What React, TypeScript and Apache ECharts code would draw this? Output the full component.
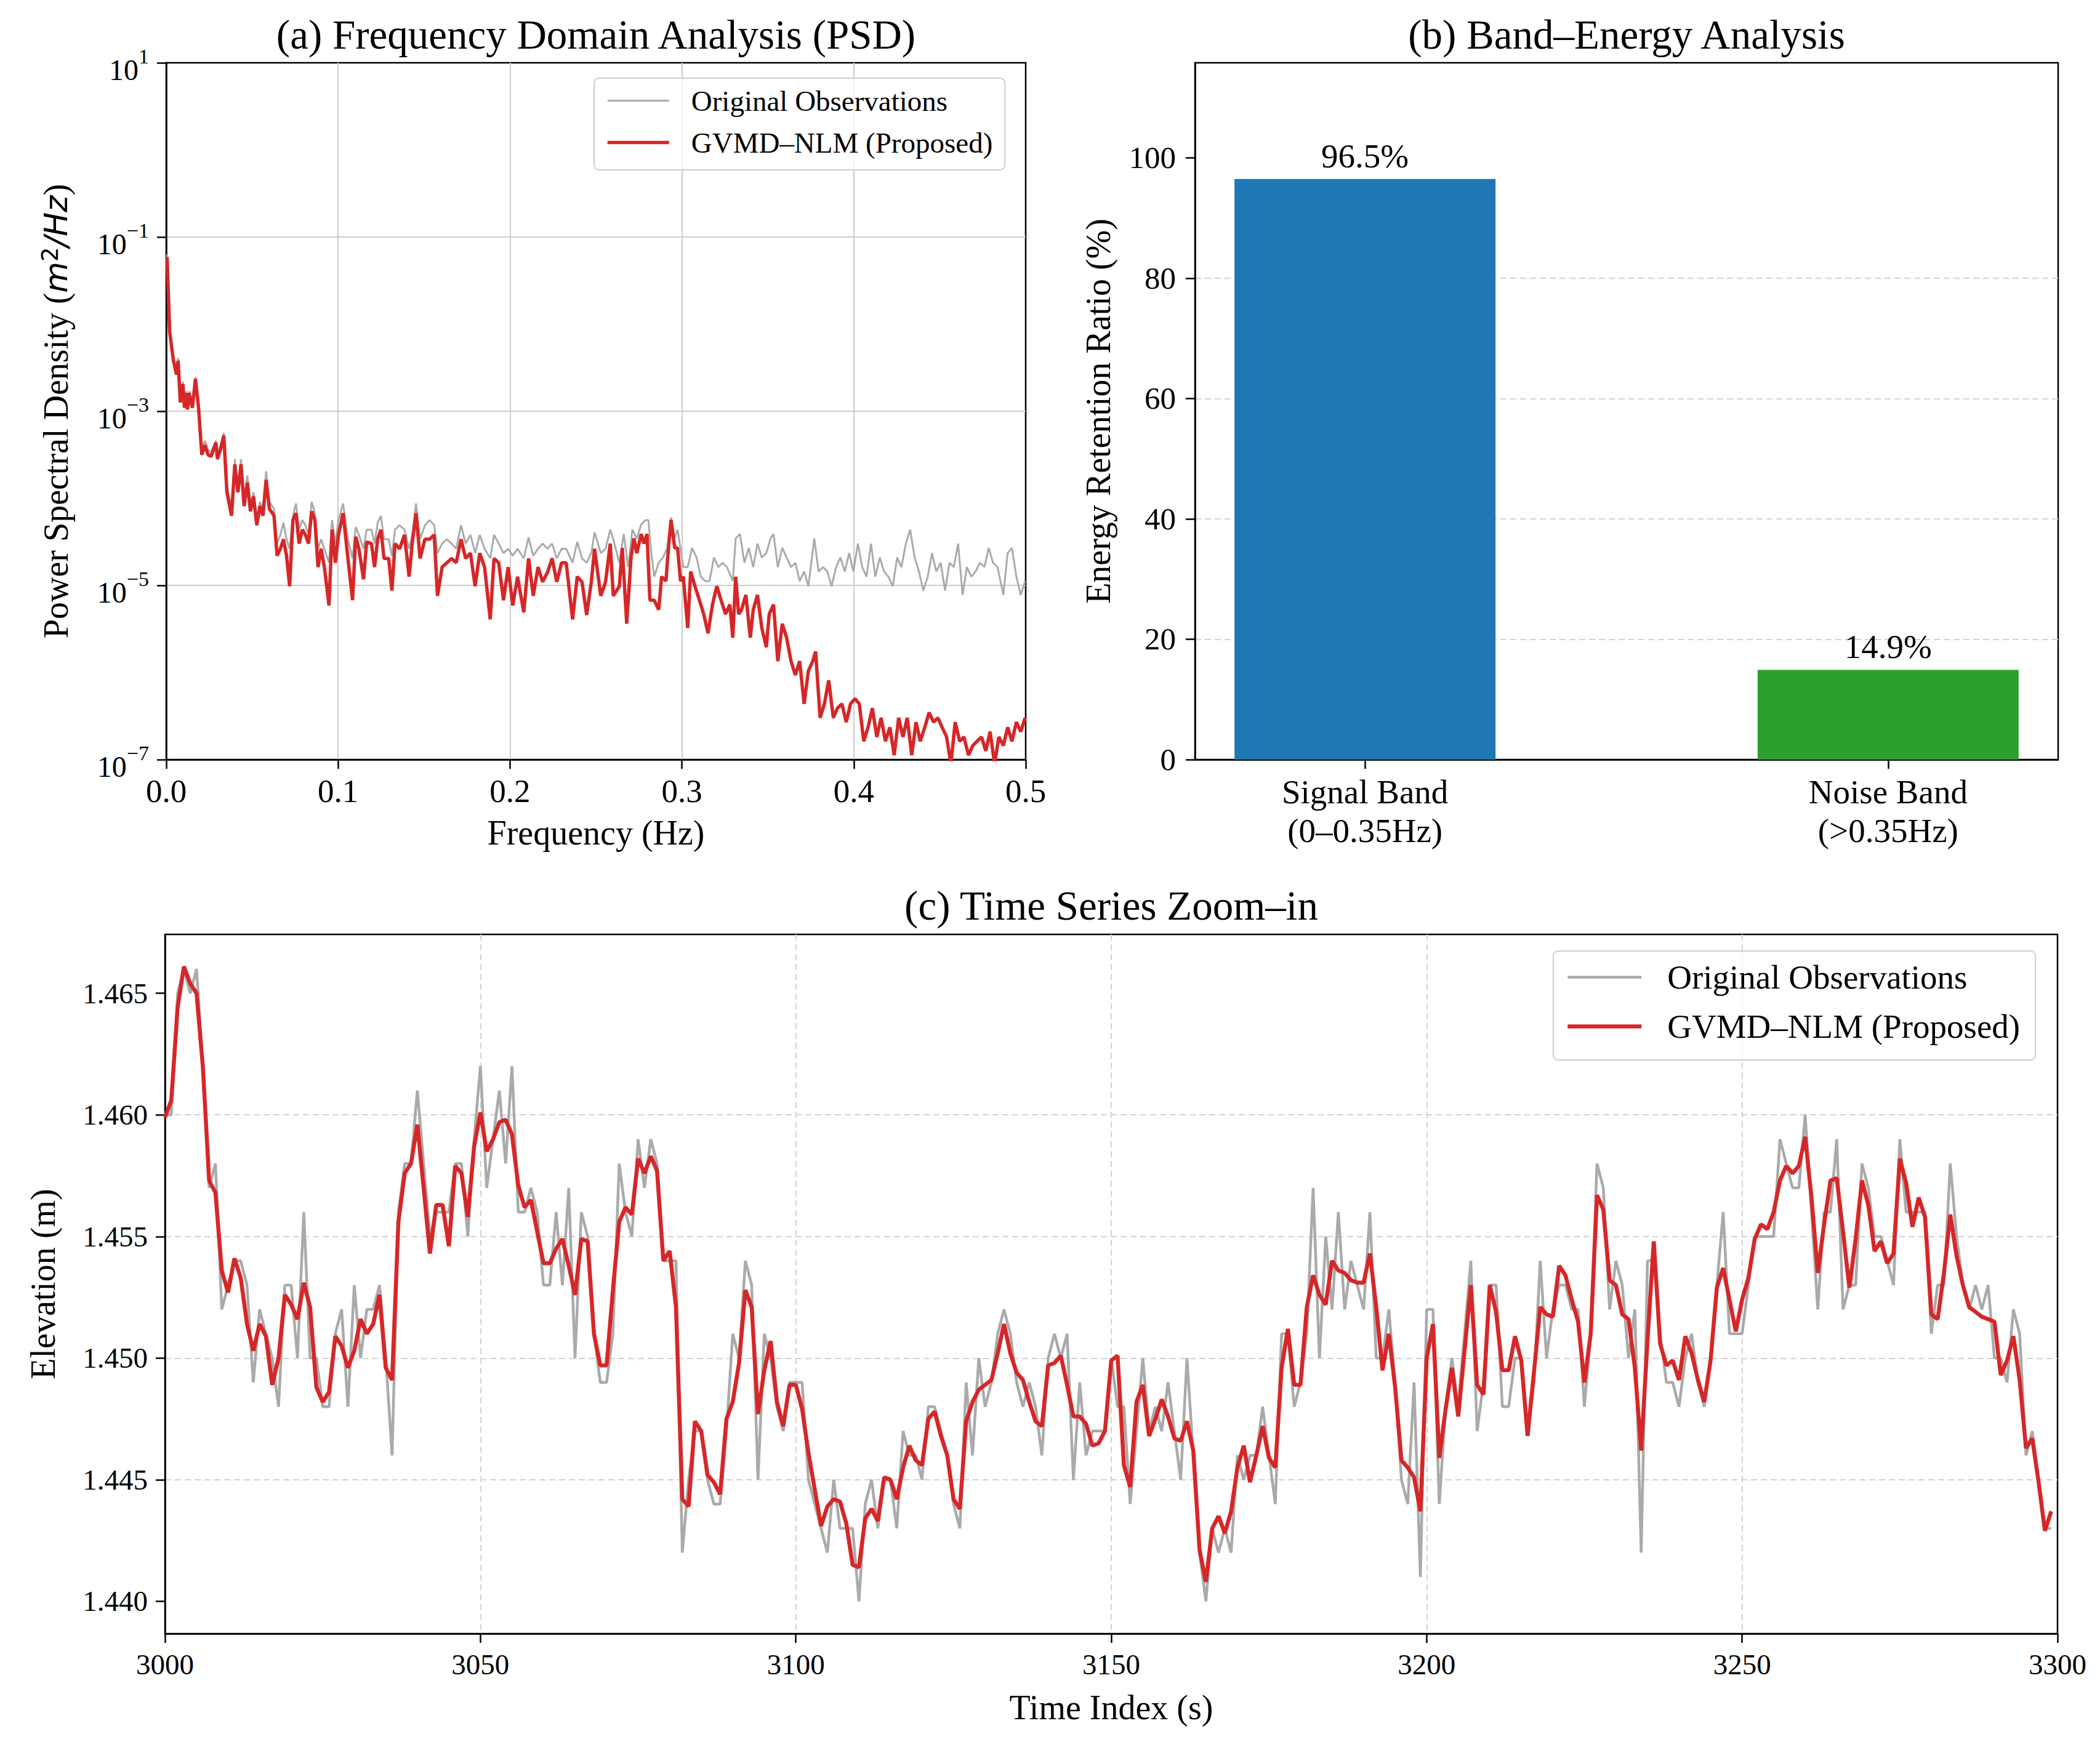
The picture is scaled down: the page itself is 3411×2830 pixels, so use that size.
import React, { useEffect, useRef } from 'react';
import * as echarts from 'echarts';

const FONT = "'Liberation Serif', 'Times New Roman', serif";
const NAME_ORIG = 'Original Observations';
const NAME_PROP = 'GVMD–NLM (Proposed)';

// ---------- (a) PSD : [frequency (Hz), log10 PSD (m^2/Hz)] ----------
const psdOriginal: [number, number][] = [
  [0.0005,-1.20],[0.002,-2.04],[0.0042,-2.39],[0.006,-2.55],[0.0069,-2.39],[0.0082,-2.88],[0.0097,-2.66],[0.0106,-2.93],[0.0115,-2.77],[0.0124,-2.96],
  [0.0133,-2.77],[0.0152,-2.93],[0.017,-2.61],[0.0188,-2.93],[0.0207,-3.44],[0.0225,-3.34],[0.0243,-3.44],[0.0261,-3.47],[0.0289,-3.34],[0.0298,-3.50],
  [0.0316,-3.39],[0.0335,-3.25],[0.0353,-3.85],[0.038,-4.12],[0.0399,-3.55],[0.0417,-3.85],[0.0435,-3.55],[0.0453,-4.01],[0.0472,-3.74],[0.049,-4.06],
  [0.0508,-3.93],[0.0527,-4.23],[0.0545,-4.04],[0.0563,-4.12],[0.0581,-3.69],[0.06,-4.04],[0.0627,-4.12],[0.0645,-4.52],[0.0664,-4.42],[0.0682,-4.28],
  [0.07,-4.47],[0.0718,-4.58],[0.0737,-4.20],[0.0755,-4.06],[0.0773,-4.36],[0.0792,-4.25],[0.081,-4.31],[0.0828,-4.42],[0.0846,-4.04],[0.0865,-4.17],
  [0.0883,-4.58],[0.0901,-4.47],[0.092,-4.58],[0.0947,-4.74],[0.0965,-4.25],[0.0984,-4.52],[0.1002,-4.25],[0.1029,-4.06],[0.1057,-4.47],[0.1084,-4.69],
  [0.1102,-4.33],[0.1121,-4.42],[0.1148,-4.58],[0.1166,-4.36],[0.1194,-4.36],[0.1212,-4.52],[0.123,-4.28],[0.1249,-4.20],[0.1267,-4.47],[0.1294,-4.47],
  [0.1313,-4.66],[0.1331,-4.36],[0.1358,-4.31],[0.1386,-4.36],[0.1413,-4.58],[0.1431,-4.42],[0.1453,-4.06],[0.1477,-4.47],[0.1505,-4.31],[0.1532,-4.25],
  [0.1559,-4.31],[0.1578,-4.63],[0.1605,-4.52],[0.1633,-4.47],[0.166,-4.52],[0.1687,-4.58],[0.1715,-4.31],[0.1742,-4.52],[0.177,-4.42],[0.1797,-4.63],
  [0.1824,-4.42],[0.1852,-4.58],[0.1885,-4.69],[0.1907,-4.42],[0.1934,-4.52],[0.1962,-4.63],[0.1989,-4.58],[0.2016,-4.66],[0.2044,-4.58],[0.208,-4.69],
  [0.2108,-4.45],[0.2135,-4.66],[0.2163,-4.58],[0.219,-4.52],[0.2218,-4.58],[0.2245,-4.52],[0.2272,-4.69],[0.23,-4.58],[0.2327,-4.58],[0.2364,-4.74],
  [0.2391,-4.50],[0.2419,-4.69],[0.2446,-4.74],[0.2473,-4.63],[0.2492,-4.39],[0.2528,-4.63],[0.2556,-4.58],[0.2583,-4.36],[0.2601,-4.47],
  [0.2636,-4.74],[0.2662,-4.41],[0.2687,-4.79],[0.2712,-4.36],[0.2738,-4.46],[0.2763,-4.30],[0.2788,-4.25],[0.2805,-4.25],[0.2822,-4.63],[0.2839,-4.90],
  [0.2865,-4.74],[0.289,-4.68],[0.2915,-4.57],[0.2937,-4.22],[0.2958,-4.46],[0.2975,-4.36],[0.3008,-4.79],[0.3034,-4.79],[0.3059,-4.57],[0.3085,-4.68],
  [0.311,-4.90],[0.3135,-4.95],[0.3161,-4.95],[0.3186,-4.68],[0.3212,-4.79],[0.3237,-4.74],[0.3262,-4.79],[0.3296,-4.95],[0.3313,-4.46],[0.3338,-4.41],
  [0.3364,-4.74],[0.3389,-4.57],[0.3415,-4.79],[0.344,-4.52],[0.3465,-4.68],[0.3491,-4.63],[0.3516,-4.46],[0.3533,-4.41],[0.3558,-4.79],[0.3584,-4.57],
  [0.3609,-4.68],[0.3635,-4.79],[0.366,-4.74],[0.3685,-4.95],[0.3711,-4.84],[0.3736,-5.01],[0.377,-4.46],[0.3795,-4.84],[0.3821,-4.79],[0.3846,-4.84],
  [0.3871,-5.01],[0.3897,-4.79],[0.3922,-4.68],[0.3948,-4.84],[0.3973,-4.63],[0.3998,-4.84],[0.4024,-4.52],[0.4049,-4.79],[0.4074,-4.90],[0.41,-4.52],
  [0.4125,-4.90],[0.4151,-4.68],[0.4176,-4.84],[0.4201,-4.90],[0.4227,-5.01],[0.4252,-4.68],[0.4277,-4.79],[0.4303,-4.52],[0.4328,-4.36],[0.4354,-4.68],
  [0.4379,-4.84],[0.4404,-5.06],[0.443,-4.90],[0.4455,-4.63],[0.448,-4.84],[0.4506,-4.74],[0.4531,-5.06],[0.4557,-4.74],[0.4582,-4.79],[0.4607,-4.52],
  [0.4633,-5.11],[0.4658,-4.79],[0.4684,-4.90],[0.4709,-4.84],[0.4734,-4.74],[0.476,-4.79],[0.4785,-4.57],[0.481,-4.74],[0.4836,-4.79],[0.487,-5.11],
  [0.4895,-4.63],[0.492,-4.57],[0.4946,-4.90],[0.4971,-5.11],[0.4997,-4.95]
];

const psdProposed: [number, number][] = [
  [0.0005,-1.23],[0.002,-2.09],[0.0042,-2.42],[0.006,-2.58],[0.0069,-2.42],[0.0082,-2.90],[0.0097,-2.69],[0.0106,-2.96],[0.0115,-2.79],[0.0124,-2.98],
  [0.0133,-2.79],[0.0152,-2.96],[0.017,-2.63],[0.0188,-2.96],[0.0207,-3.50],[0.0225,-3.39],[0.0243,-3.50],[0.0261,-3.52],[0.0289,-3.36],[0.0298,-3.55],
  [0.0316,-3.44],[0.0335,-3.28],[0.0353,-3.93],[0.038,-4.20],[0.0399,-3.61],[0.0417,-3.93],[0.0435,-3.61],[0.0453,-4.09],[0.0472,-3.82],[0.049,-4.15],
  [0.0508,-3.98],[0.0527,-4.31],[0.0545,-4.09],[0.0563,-4.20],[0.0581,-3.79],[0.06,-4.12],[0.0627,-4.20],[0.0645,-4.66],[0.0664,-4.58],[0.0682,-4.47],
  [0.07,-4.66],[0.0718,-5.01],[0.0737,-4.25],[0.0755,-4.17],[0.0773,-4.52],[0.0792,-4.36],[0.081,-4.42],[0.0828,-4.52],[0.0846,-4.15],[0.0865,-4.25],
  [0.0883,-4.79],[0.0901,-4.58],[0.092,-4.79],[0.0947,-5.23],[0.0965,-4.36],[0.0984,-4.74],[0.1002,-4.42],[0.1029,-4.17],[0.1057,-4.69],[0.1084,-5.17],
  [0.1102,-4.44],[0.1121,-4.58],[0.1148,-4.93],[0.1166,-4.50],[0.1194,-4.52],[0.1212,-4.79],[0.123,-4.47],[0.1249,-4.36],[0.1267,-4.69],[0.1294,-4.69],
  [0.1313,-5.06],[0.1331,-4.52],[0.1358,-4.58],[0.1386,-4.42],[0.1413,-4.90],[0.1431,-4.52],[0.1453,-4.17],[0.1477,-4.69],[0.1505,-4.47],[0.1532,-4.47],
  [0.1559,-4.42],[0.1578,-5.12],[0.1605,-4.79],[0.1633,-4.74],[0.166,-4.69],[0.1687,-4.74],[0.1715,-4.47],[0.1742,-4.69],[0.177,-4.63],[0.1797,-5.01],
  [0.1824,-4.63],[0.1852,-4.79],[0.1885,-5.39],[0.1907,-4.69],[0.1934,-4.74],[0.1962,-5.17],[0.1989,-4.79],[0.2016,-5.23],[0.2044,-4.90],[0.208,-5.31],
  [0.2108,-4.69],[0.2135,-5.12],[0.2163,-4.79],[0.219,-4.96],[0.2218,-4.85],[0.2245,-4.69],[0.2272,-4.96],[0.23,-4.74],[0.2327,-4.74],[0.2364,-5.39],
  [0.2391,-4.90],[0.2419,-4.96],[0.2446,-5.34],[0.2473,-4.96],[0.2492,-4.58],[0.2528,-5.12],[0.2556,-4.96],[0.2583,-4.52],[0.2601,-5.12],
  [0.2636,-5.01],[0.2653,-4.57],[0.2679,-5.44],[0.2704,-4.68],[0.2721,-4.46],[0.2738,-4.63],[0.2763,-4.41],[0.278,-4.52],[0.2797,-4.41],[0.2814,-5.17],
  [0.2839,-5.17],[0.2865,-5.28],[0.2882,-4.90],[0.2907,-4.95],[0.2924,-4.52],[0.2937,-4.25],[0.2958,-4.57],[0.2975,-4.57],[0.2992,-4.95],[0.3008,-4.90],
  [0.3034,-5.49],[0.3051,-4.84],[0.3076,-5.01],[0.3102,-5.17],[0.3127,-5.33],[0.3152,-5.55],[0.3178,-5.22],[0.3203,-5.01],[0.3228,-5.17],[0.3254,-5.33],
  [0.3279,-5.22],[0.3296,-5.60],[0.3313,-4.90],[0.333,-5.33],[0.3347,-5.28],[0.3372,-5.11],[0.3398,-5.60],[0.3415,-5.28],[0.344,-5.11],[0.3465,-5.49],
  [0.3491,-5.71],[0.3508,-5.33],[0.3533,-5.22],[0.3558,-5.87],[0.3584,-5.44],[0.3609,-5.60],[0.3635,-5.87],[0.366,-6.03],[0.3685,-5.87],[0.3711,-6.36],
  [0.3736,-5.98],[0.3761,-5.87],[0.3778,-5.76],[0.3804,-6.52],[0.3829,-6.36],[0.3854,-6.09],[0.3881,-6.52],[0.3905,-6.41],[0.3931,-6.36],[0.3956,-6.57],
  [0.3981,-6.36],[0.4007,-6.30],[0.4032,-6.36],[0.4058,-6.79],[0.4083,-6.63],[0.4108,-6.41],[0.4134,-6.74],[0.4159,-6.52],[0.4184,-6.79],[0.421,-6.63],
  [0.4235,-6.95],[0.4261,-6.52],[0.4286,-6.74],[0.4311,-6.52],[0.4337,-6.95],[0.4362,-6.57],[0.4387,-6.79],[0.4413,-6.63],[0.4438,-6.46],[0.4464,-6.57],
  [0.4489,-6.52],[0.4514,-6.63],[0.454,-6.74],[0.4565,-7.05],[0.459,-6.57],[0.4616,-6.79],[0.4641,-6.74],[0.4667,-6.95],[0.4692,-6.84],[0.4717,-6.79],
  [0.4743,-6.74],[0.4768,-6.90],[0.4793,-6.68],[0.4819,-7.05],[0.4844,-6.74],[0.487,-6.84],[0.4895,-6.63],[0.492,-6.79],[0.4946,-6.57],[0.4971,-6.68],
  [0.4997,-6.52]
];

const psdExpTicks = [-7, -5, -3, -1, 1];
const freqTicks = [0, 0.1, 0.2, 0.3, 0.4, 0.5];

// ---------- (b) band energy ----------
const bandCategories = ['Signal Band\n(0–0.35Hz)', 'Noise Band\n(>0.35Hz)'];
const bandEnergy = [96.5, 14.9];
const bandColors = ['#1f77b4', '#2ca02c'];
const energyTicks = [0, 20, 40, 60, 80, 100];

// ---------- (c) time series 3000..3299 ----------
const timeStart = 3000;
const elevationOriginal = [
  1.460,1.460,1.465,1.466,1.465,1.466,1.462,1.457,1.458,1.452,
  1.453,1.454,1.454,1.453,1.449,1.452,1.451,1.450,1.448,1.453,
  1.453,1.450,1.456,1.450,1.450,1.448,1.448,1.451,1.452,1.448,
  1.453,1.450,1.452,1.452,1.453,1.450,1.446,1.456,1.458,1.458,
  1.461,1.458,1.455,1.456,1.456,1.456,1.458,1.458,1.455,1.459,
  1.462,1.457,1.459,1.461,1.458,1.462,1.456,1.456,1.457,1.456,
  1.453,1.453,1.456,1.453,1.457,1.450,1.456,1.455,1.451,1.449,
  1.449,1.451,1.458,1.456,1.455,1.459,1.457,1.459,1.458,1.454,
  1.454,1.454,1.442,1.445,1.447,1.447,1.445,1.444,1.444,1.447,
  1.451,1.450,1.454,1.453,1.445,1.451,1.450,1.448,1.447,1.449,
  1.449,1.449,1.445,1.444,1.443,1.442,1.445,1.443,1.443,1.443,
  1.440,1.444,1.445,1.443,1.445,1.445,1.443,1.447,1.446,1.446,
  1.445,1.448,1.448,1.447,1.446,1.444,1.443,1.449,1.446,1.450,
  1.448,1.449,1.451,1.452,1.451,1.449,1.448,1.449,1.448,1.446,
  1.450,1.451,1.450,1.451,1.445,1.449,1.446,1.447,1.447,1.447,
  1.450,1.448,1.448,1.444,1.447,1.450,1.447,1.448,1.447,1.449,
  1.447,1.445,1.450,1.446,1.442,1.440,1.443,1.442,1.443,1.442,
  1.446,1.445,1.446,1.446,1.448,1.446,1.444,1.451,1.451,1.448,
  1.449,1.451,1.457,1.450,1.455,1.452,1.456,1.452,1.454,1.453,
  1.452,1.456,1.450,1.450,1.452,1.449,1.445,1.444,1.449,1.441,
  1.452,1.452,1.444,1.448,1.450,1.448,1.451,1.454,1.447,1.449,
  1.453,1.453,1.448,1.448,1.450,1.450,1.447,1.449,1.454,1.450,
  1.452,1.453,1.453,1.452,1.452,1.448,1.451,1.458,1.457,1.452,
  1.454,1.453,1.450,1.452,1.442,1.454,1.454,1.451,1.449,1.449,
  1.448,1.450,1.451,1.449,1.448,1.450,1.453,1.456,1.451,1.451,
  1.451,1.453,1.455,1.455,1.455,1.455,1.459,1.458,1.457,1.457,
  1.460,1.456,1.452,1.456,1.456,1.459,1.452,1.453,1.453,1.458,
  1.457,1.455,1.455,1.454,1.453,1.459,1.456,1.456,1.456,1.456,
  1.451,1.453,1.453,1.458,1.455,1.453,1.452,1.453,1.452,1.453,
  1.450,1.450,1.449,1.452,1.451,1.446,1.447,1.445,1.443,1.443
];
const elevationProposed = [
  1.4599,1.4606,1.4644,1.4661,1.4654,1.4650,1.4620,1.4573,1.4568,1.4536,
  1.4527,1.4541,1.4533,1.4514,1.4503,1.4514,1.4509,1.4489,1.4500,1.4526,
  1.4522,1.4516,1.4531,1.4521,1.4488,1.4482,1.4486,1.4509,1.4505,1.4496,
  1.4503,1.4516,1.4510,1.4514,1.4526,1.4496,1.4491,1.4556,1.4576,1.4580,
  1.4596,1.4570,1.4543,1.4563,1.4563,1.4546,1.4579,1.4576,1.4558,1.4587,
  1.4601,1.4585,1.4590,1.4597,1.4598,1.4592,1.4571,1.4562,1.4565,1.4552,
  1.4539,1.4539,1.4545,1.4549,1.4538,1.4526,1.4549,1.4548,1.4510,1.4497,
  1.4497,1.4528,1.4556,1.4562,1.4559,1.4582,1.4576,1.4583,1.4577,1.4540,
  1.4544,1.4521,1.4442,1.4439,1.4474,1.4470,1.4452,1.4449,1.4444,1.4475,
  1.4482,1.4498,1.4528,1.4521,1.4477,1.4495,1.4507,1.4482,1.4472,1.4489,
  1.4489,1.4479,1.4461,1.4446,1.4431,1.4439,1.4442,1.4441,1.4432,1.4415,
  1.4414,1.4434,1.4438,1.4433,1.4451,1.4450,1.4442,1.4455,1.4464,1.4458,
  1.4456,1.4475,1.4478,1.4468,1.4460,1.4442,1.4438,1.4474,1.4482,1.4487,
  1.4489,1.4491,1.4502,1.4514,1.4502,1.4494,1.4491,1.4482,1.4474,1.4472,
  1.4497,1.4498,1.4501,1.4489,1.4476,1.4476,1.4473,1.4464,1.4465,1.4470,
  1.4499,1.4501,1.4456,1.4447,1.4482,1.4489,1.4468,1.4475,1.4483,1.4476,
  1.4467,1.4466,1.4474,1.4462,1.4421,1.4408,1.4430,1.4435,1.4428,1.4437,
  1.4455,1.4464,1.4449,1.4460,1.4472,1.4459,1.4455,1.4496,1.4512,1.4489,
  1.4489,1.4521,1.4534,1.4526,1.4522,1.4540,1.4536,1.4535,1.4532,1.4531,
  1.4531,1.4543,1.4521,1.4495,1.4510,1.4488,1.4458,1.4455,1.4451,1.4437,
  1.4500,1.4514,1.4459,1.4479,1.4496,1.4476,1.4503,1.4530,1.4489,1.4485,
  1.4530,1.4519,1.4495,1.4495,1.4509,1.4499,1.4468,1.4494,1.4521,1.4518,
  1.4517,1.4538,1.4534,1.4524,1.4515,1.4490,1.4510,1.4567,1.4561,1.4532,
  1.4530,1.4518,1.4516,1.4496,1.4462,1.4507,1.4548,1.4506,1.4497,1.4499,
  1.4491,1.4509,1.4502,1.4491,1.4482,1.4499,1.4529,1.4537,1.4524,1.4511,
  1.4524,1.4533,1.4549,1.4555,1.4553,1.4560,1.4573,1.4579,1.4576,1.4579,
  1.4591,1.4566,1.4535,1.4555,1.4573,1.4574,1.4552,1.4529,1.4549,1.4573,
  1.4563,1.4544,1.4548,1.4539,1.4543,1.4582,1.4572,1.4554,1.4566,1.4558,
  1.4518,1.4516,1.4535,1.4559,1.4542,1.4530,1.4521,1.4519,1.4517,1.4516,
  1.4515,1.4493,1.4499,1.4509,1.4491,1.4463,1.4467,1.4449,1.4429,1.4437
];
const elevTicks = [1.440, 1.445, 1.450, 1.455, 1.460, 1.465];
const timeTicks = [3000, 3050, 3100, 3150, 3200, 3250, 3300];

const BLACK = '#000000';
const GRAY = '#aaaaaa';
const RED = '#d62728';

function axisBase(extra: any) {
  return {
    axisLine: { show: true, onZero: false, lineStyle: { color: BLACK, width: 2.5 } },
    axisTick: { show: true, length: 15, lineStyle: { color: BLACK, width: 2.5 } },
    ...extra,
  };
}

const solidGrid = { show: true, showMinLine: false, showMaxLine: false, lineStyle: { color: '#cccccc', width: 2, type: 'solid' } };
const dashGrid = { show: true, showMinLine: false, showMaxLine: false, lineStyle: { color: '#d3d3d3', width: 2, type: [10, 6] } };
const hiddenSymbol = { color: 'rgba(0,0,0,0)', opacity: 0, borderWidth: 0 };

function buildOption() {
  const supLabel = (v: number) => {
    const e = Math.round(v);
    return '{b|10}{s|' + (e < 0 ? '−' + -e : String(e)) + '}';
  };
  return {
    animation: false,
    backgroundColor: '#ffffff',
    textStyle: { fontFamily: FONT, color: BLACK },
    title: [
      { text: '(a) Frequency Domain Analysis (PSD)', left: 968, top: 22, textAlign: 'center', padding: 0,
        textStyle: { fontSize: 67, fontWeight: 'normal', fontFamily: FONT, color: BLACK } },
      { text: '(b) Band–Energy Analysis', left: 2642, top: 22, textAlign: 'center', padding: 0,
        textStyle: { fontSize: 67, fontWeight: 'normal', fontFamily: FONT, color: BLACK } },
      { text: '(c) Time Series Zoom–in', left: 1805, top: 1437, textAlign: 'center', padding: 0,
        textStyle: { fontSize: 67, fontWeight: 'normal', fontFamily: FONT, color: BLACK } },
    ],
    legend: [
      {
        orient: 'vertical', left: 965, top: 127,
        data: [
          { name: NAME_ORIG, lineStyle: { color: GRAY, width: 3 }, itemStyle: hiddenSymbol },
          { name: NAME_PROP, lineStyle: { color: RED, width: 5.5 }, itemStyle: hiddenSymbol },
        ],
        itemWidth: 100, itemHeight: 20, itemGap: 21,
        padding: [13, 20, 21, 19],
        textStyle: { fontSize: 47, fontFamily: FONT, color: BLACK, padding: [0, 0, 0, 31] },
        borderColor: '#cccccc', borderWidth: 2, borderRadius: 8,
        backgroundColor: 'rgba(255,255,255,0.8)',
        selectedMode: false,
      },
      {
        orient: 'vertical', left: 2523, top: 1545,
        data: [
          { name: NAME_ORIG, lineStyle: { color: GRAY, width: 4.5 }, itemStyle: hiddenSymbol },
          { name: NAME_PROP, lineStyle: { color: RED, width: 6.5 }, itemStyle: hiddenSymbol },
        ],
        itemWidth: 120, itemHeight: 20, itemGap: 25,
        padding: [15, 25, 27, 20],
        textStyle: { fontSize: 55, fontFamily: FONT, color: BLACK, padding: [0, 0, 0, 37] },
        borderColor: '#cccccc', borderWidth: 2, borderRadius: 8,
        backgroundColor: 'rgba(255,255,255,0.8)',
        selectedMode: false,
      },
    ],
    grid: [
      { left: 270, top: 102, width: 1396, height: 1132, show: true, borderColor: BLACK, borderWidth: 2.5, backgroundColor: 'transparent', containLabel: false },
      { left: 1941, top: 102, width: 1402, height: 1132, show: true, borderColor: BLACK, borderWidth: 2.5, backgroundColor: 'transparent', containLabel: false },
      { left: 268, top: 1518, width: 3074, height: 1136, show: true, borderColor: BLACK, borderWidth: 2.5, backgroundColor: 'transparent', containLabel: false },
    ],
    xAxis: [
      axisBase({
        gridIndex: 0, type: 'value', min: 0, max: 0.5, interval: 0.1,
        name: 'Frequency (Hz)', nameLocation: 'middle', nameGap: 91,
        nameTextStyle: { fontSize: 56, fontFamily: FONT, color: BLACK },
        axisLabel: { fontSize: 53, color: BLACK, fontFamily: FONT, margin: 24, customValues: freqTicks,
          formatter: (v: number) => v.toFixed(1) },
        splitLine: solidGrid,
      }),
      axisBase({
        gridIndex: 1, type: 'value', min: -0.325, max: 1.325,
        axisTick: { show: true, length: 15, lineStyle: { color: BLACK, width: 2.5 }, customValues: [0, 1] },
        axisLabel: { fontSize: 55, color: BLACK, fontFamily: FONT, margin: 21, lineHeight: 63, customValues: [0, 1],
          formatter: (v: number) => bandCategories[Math.round(v)] ?? '' },
        splitLine: { show: false },
      }),
      axisBase({
        gridIndex: 2, type: 'value', min: 3000, max: 3300, interval: 50,
        name: 'Time Index (s)', nameLocation: 'middle', nameGap: 92,
        nameTextStyle: { fontSize: 56, fontFamily: FONT, color: BLACK },
        axisLabel: { fontSize: 47, color: BLACK, fontFamily: FONT, margin: 26, customValues: timeTicks,
          formatter: (v: number) => String(Math.round(v)) },
        splitLine: dashGrid,
      }),
    ],
    yAxis: [
      axisBase({
        gridIndex: 0, type: 'value', min: -7, max: 1, interval: 2,
        name: 'Power Spectral Density ({i|m}{s|2}{i|/Hz})', nameLocation: 'middle', nameGap: 151,
        nameTextStyle: {
          fontSize: 56, fontFamily: FONT, color: BLACK, lineHeight: 56,
          rich: {
            i: { fontSize: 52, fontFamily: 'DejaVu Sans', fontStyle: 'italic', color: BLACK, lineHeight: 56 },
            s: { fontSize: 37, fontFamily: 'DejaVu Sans', color: BLACK, lineHeight: 30, verticalAlign: 'top' },
          },
        },
        axisLabel: {
          color: BLACK, margin: 28, padding: [22, 0, 0, 0], customValues: psdExpTicks,
          formatter: supLabel,
          rich: {
            b: { fontSize: 48, fontFamily: FONT, color: BLACK, lineHeight: 77 },
            s: { fontSize: 34, fontFamily: FONT, color: BLACK, lineHeight: 24, verticalAlign: 'top' },
          },
        },
        splitLine: solidGrid,
      }),
      axisBase({
        gridIndex: 1, type: 'value', min: 0, max: 115.8, interval: 20,
        name: 'Energy Retention Ratio (%)', nameLocation: 'middle', nameGap: 129,
        nameTextStyle: { fontSize: 56, fontFamily: FONT, color: BLACK },
        axisTick: { show: true, length: 15, lineStyle: { color: BLACK, width: 2.5 }, customValues: energyTicks },
        axisLabel: { fontSize: 51, color: BLACK, fontFamily: FONT, margin: 31, customValues: energyTicks,
          formatter: (v: number) => String(Math.round(v)) },
        splitLine: dashGrid,
      }),
      axisBase({
        gridIndex: 2, type: 'value', min: 1.43867, max: 1.46742,
        name: 'Elevation (m)', nameLocation: 'middle', nameGap: 170,
        nameTextStyle: { fontSize: 56, fontFamily: FONT, color: BLACK },
        axisTick: { show: true, length: 15, lineStyle: { color: BLACK, width: 2.5 }, customValues: elevTicks },
        axisLabel: { fontSize: 47, color: BLACK, fontFamily: FONT, margin: 28, customValues: elevTicks,
          formatter: (v: number) => v.toFixed(3) },
        splitLine: dashGrid,
      }),
    ],
    series: [
      { type: 'line', name: NAME_ORIG, xAxisIndex: 0, yAxisIndex: 0, data: psdOriginal, symbol: 'none',
        color: GRAY, lineStyle: { color: GRAY, width: 3 }, z: 2, clip: true },
      { type: 'line', name: NAME_PROP, xAxisIndex: 0, yAxisIndex: 0, data: psdProposed, symbol: 'none',
        color: RED, lineStyle: { color: RED, width: 5.5 }, z: 3, clip: true },
      { type: 'bar', name: 'Band Energy', xAxisIndex: 1, yAxisIndex: 1, barWidth: 424,
        data: bandEnergy.map((v, i) => ({ value: [i, v], itemStyle: { color: bandColors[i] } })),
        label: { show: true, position: 'top', distance: 10, fontSize: 55, fontFamily: FONT, color: BLACK,
          formatter: (p: any) => Number(p.value[1]).toFixed(1) + '%' } },
      { type: 'line', name: NAME_ORIG, xAxisIndex: 2, yAxisIndex: 2,
        data: elevationOriginal.map((v, i) => [timeStart + i, v]), symbol: 'none',
        color: GRAY, lineStyle: { color: GRAY, width: 4.5 }, z: 2, clip: true },
      { type: 'line', name: NAME_PROP, xAxisIndex: 2, yAxisIndex: 2,
        data: elevationProposed.map((v, i) => [timeStart + i, v]), symbol: 'none',
        color: RED, lineStyle: { color: RED, width: 6.5 }, z: 3, clip: true },
    ],
  };
}

export default function App() {
  const ref = useRef<HTMLDivElement>(null);
  useEffect(() => {
    if (!ref.current) return;
    const chart = echarts.init(ref.current, null, { renderer: 'svg' });
    chart.setOption(buildOption() as any);
    return () => chart.dispose();
  }, []);
  return (
    <div
      ref={ref}
      style={{ position: 'absolute', left: 0, top: 0, width: 3411, height: 2830, background: '#ffffff' }}
    />
  );
}
